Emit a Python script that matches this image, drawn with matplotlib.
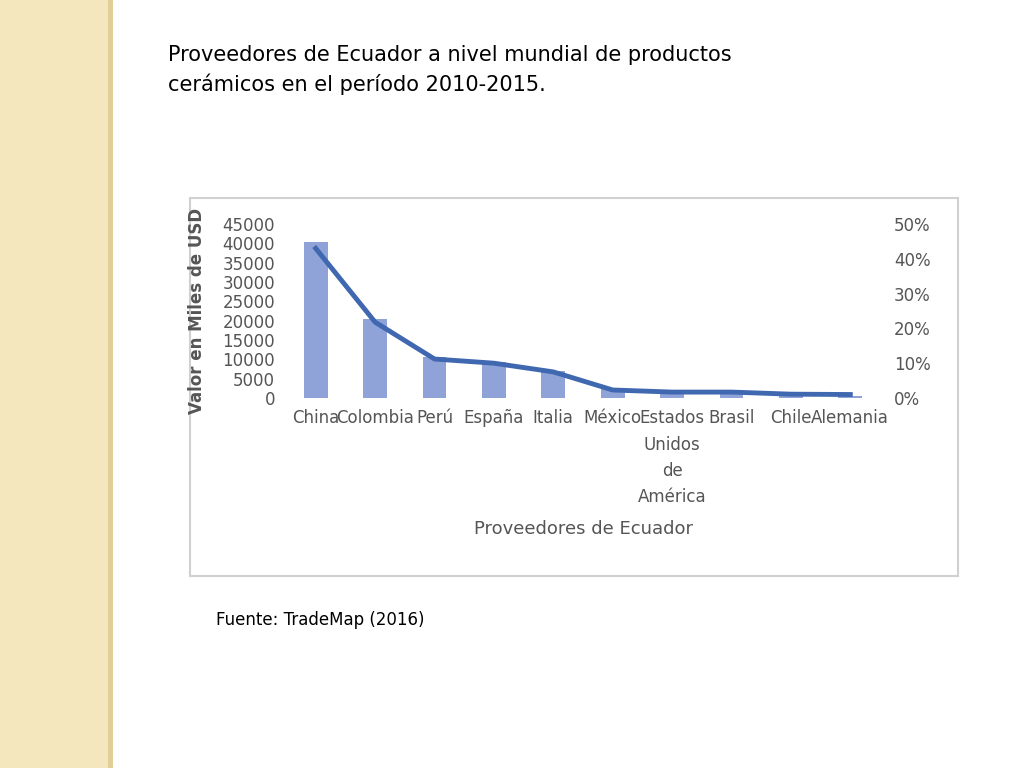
import matplotlib
matplotlib.use("Agg")
import matplotlib.pyplot as plt
from matplotlib.patches import Rectangle
from matplotlib import font_manager

names = {f.name for f in font_manager.fontManager.ttflist}
cond = "Liberation Sans Narrow" if "Liberation Sans Narrow" in names else "DejaVu Sans"

categories = ["China", "Colombia", "Perú", "España", "Italia", "México",
              "Estados\nUnidos\nde\nAmérica", "Brasil", "Chile", "Alemania"]
values = [40300, 20400, 10600, 9300, 7000, 2300, 1300, 1300, 800, 500]
shares = [43.0, 21.8, 11.2, 10.0, 7.5, 2.3, 1.7, 1.7, 1.1, 1.0]

fig = plt.figure(figsize=(10.24, 7.68), dpi=100)
fig.patch.set_facecolor("white")
fig.add_artist(Rectangle((0, 0), 113/1024, 1, transform=fig.transFigure,
                         facecolor="#f4e6bd", edgecolor="none", zorder=-10))
fig.add_artist(Rectangle((108/1024, 0), 5/1024, 1, transform=fig.transFigure,
                         facecolor="#e2cf98", edgecolor="none", zorder=-10))
fig.add_artist(Rectangle((190/1024, 1-576/768), 768/1024, 378/768, transform=fig.transFigure,
                         facecolor="white", edgecolor="#d0d0d0", lw=1.5, zorder=-10))

fig.text(168/1024, 1-70/768, "Proveedores de Ecuador a nivel mundial de productos\ncerámicos en el período 2010-2015.",
         fontsize=15, va="center", ha="left", linespacing=1.45)
fig.text(216/1024, 1-620/768, "Fuente: TradeMap (2016)", fontsize=12, va="center")

ax = fig.add_axes([286/1024, 1-398/768, 594/1024, 174/768])
ax.patch.set_alpha(0)
x = range(len(categories))
ax.bar(x, values, width=0.4, color="#8fa3d8")
ax.set_xlim(-0.5, len(categories)-0.5)
ax.set_ylim(0, 45000)
ax.set_yticks(range(0, 45001, 5000))
ax.set_xticks(list(x))
ax.set_xticklabels(categories, fontfamily=cond, fontsize=12, color="#555555", linespacing=1.6)
for s in ax.spines.values():
    s.set_visible(False)
ax.tick_params(length=0, labelsize=12, colors="#555555", pad=8)
for t in ax.get_yticklabels():
    t.set_fontfamily(cond)
ax.set_ylabel("Valor en Miles de USD", fontsize=12, color="#555555", fontweight="bold", labelpad=12)
ax.set_xlabel("Proveedores de Ecuador", fontfamily=cond, fontsize=13, color="#555555", labelpad=10)

ax2 = ax.twinx()
ax2.plot(list(x), shares, color="#4068b0", lw=3.5)
ax2.set_ylim(0, 50)
ax2.set_yticks(range(0, 51, 10))
ax2.set_yticklabels([f"{v}%" for v in range(0, 51, 10)], fontfamily=cond)
for s in ax2.spines.values():
    s.set_visible(False)
ax2.tick_params(length=0, labelsize=12, colors="#555555", pad=10)

fig.savefig("out.png", dpi=100)
